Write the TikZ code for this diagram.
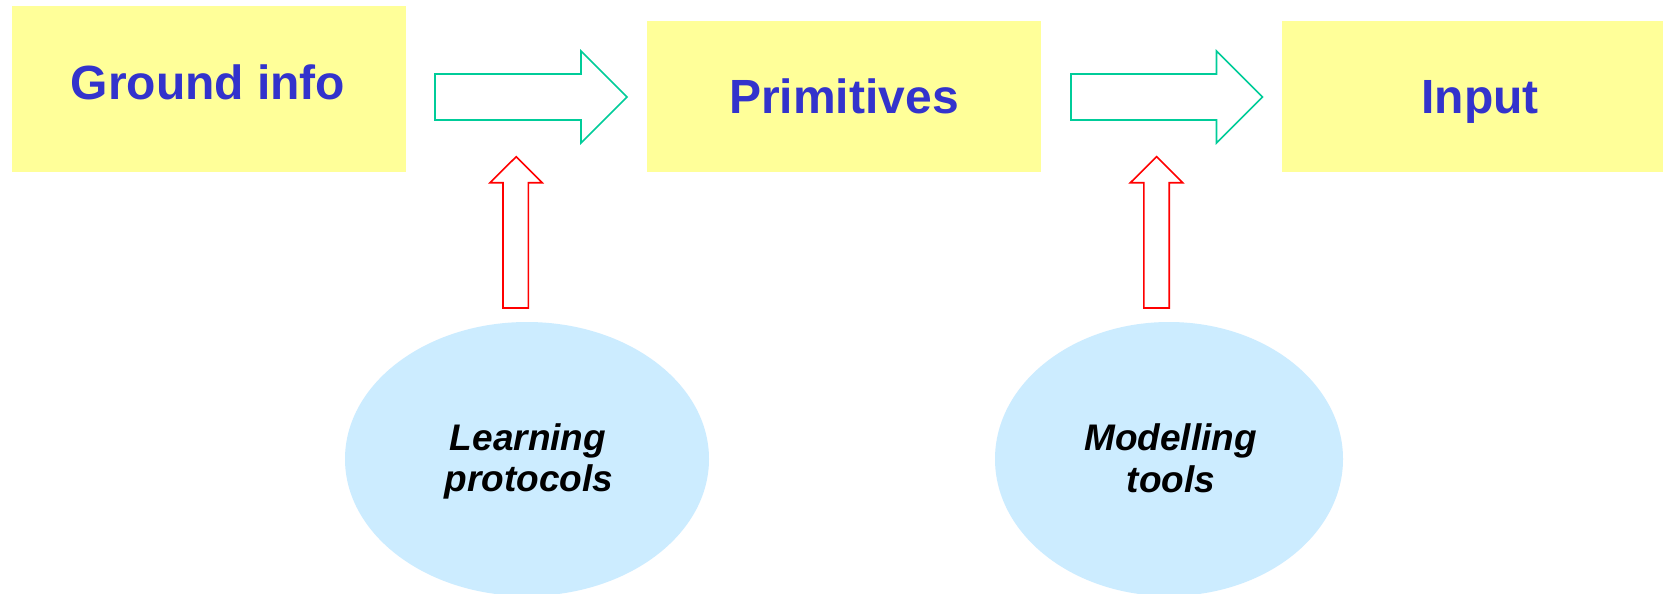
\documentclass[tikz,border=0pt]{standalone}
\usepackage{fontspec}
\setmainfont{Liberation Sans}
\usetikzlibrary{shapes.geometric}
\definecolor{boxfill}{HTML}{FFFF99}
\definecolor{titleblue}{HTML}{3333CC}
\definecolor{flowgreen}{HTML}{00CC99}
\definecolor{feedred}{HTML}{FF0000}
\definecolor{bubble}{HTML}{CCECFF}
\tikzset{
  stagebox/.style={fill=boxfill, draw=none, minimum width=394pt, inner sep=0pt},
  stagetext/.style={text=titleblue, font=\bfseries\fontsize{48}{58}\selectfont, anchor=base, inner sep=0pt},
  bubblenode/.style={ellipse, fill=bubble, draw=none, inner sep=0pt},
  bubbletext/.style={font=\bfseries\itshape\fontsize{37}{44}\selectfont, anchor=base, inner sep=0pt},
  flowarrow/.style={draw=flowgreen, line width=1.6pt, fill=white, line join=miter},
  feedarrow/.style={draw=feedred, line width=1.6pt, fill=white, line join=miter},
}
\begin{document}
\begin{tikzpicture}[x=1pt,y=-1pt]
\useasboundingbox (0,0) rectangle (1663,594);
\fill[white] (0,0) rectangle (1663,594);

% stage boxes
\node[stagebox, minimum height=165.7pt] (ground) at (209,88.85) {};
\node[stagebox, minimum height=150.7pt] (prim) at (844,96.35) {};
\node[stagebox, minimum height=150.7pt] (input) at (1479,96.35) {};
\node[stagetext] (groundtxt) at (208,99.5) {Ground info};
\node[stagetext] (primtxt) at (844,113.5) {Primitives};
\node[stagetext] (inputtxt) at (1480,113.5) {Input};

% block arrows between the stages
\draw[flowarrow] (435,74) -- (581,74) -- (581,51) -- (627,97) -- (581,143) -- (581,120) -- (435,120) -- cycle;
\draw[flowarrow] (1071,74) -- (1216.5,74) -- (1216.5,51) -- (1262.5,97) -- (1216.5,143) -- (1216.5,120) -- (1071,120) -- cycle;

% feeding arrows
\draw[feedarrow] (503,308) -- (503,182.7) -- (490,182.7) -- (516.2,156.7) -- (542.3,182.7) -- (528.3,182.7) -- (528.3,308) -- cycle;
\draw[feedarrow] (1143.8,308) -- (1143.8,182.7) -- (1130.4,182.7) -- (1156.6,156.7) -- (1182.7,182.7) -- (1169.2,182.7) -- (1169.2,308) -- cycle;

% sources
\node[bubblenode, minimum width=364pt, minimum height=274pt] (learn) at (527,459) {};
\node[bubblenode, minimum width=348pt, minimum height=274pt] (model) at (1169,459) {};
\node[bubbletext] (learn1) at (528,450.5) {Learning};
\node[bubbletext] (learn2) at (529,491) {protocols};
\node[bubbletext] (model1) at (1170.5,450.7) {Modelling};
\node[bubbletext] (model2) at (1171,492) {tools};
\end{tikzpicture}
\end{document}
